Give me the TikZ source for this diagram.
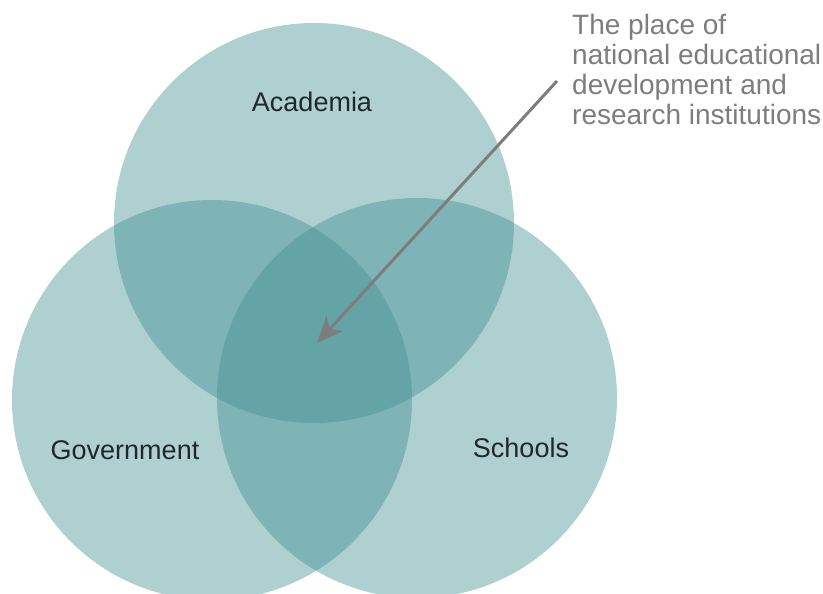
\documentclass[tikz,border=0pt]{standalone}
\usepackage{fontspec}
\setmainfont{Liberation Sans}
\usetikzlibrary{arrows.meta}
\definecolor{setteal}{RGB}{60,140,143}
\definecolor{labelink}{RGB}{34,38,40}
\definecolor{notegray}{RGB}{125,125,125}
\tikzset{
  setdisc/.style={fill=setteal, fill opacity=0.41, draw=none},
  setlabel/.style={text=labelink, font=\fontsize{27}{30}\selectfont, inner sep=0pt},
  notetext/.style={text=notegray, font=\fontsize{28}{30}\selectfont, align=left, inner sep=0pt},
  pointer/.style={draw=notegray, line width=3pt,
    -{Stealth[length=26pt, width=22pt, inset=7pt]}}
}
\begin{document}
\begin{tikzpicture}[x=1pt, y=-1pt]
  \useasboundingbox (0,0) rectangle (823,594);
  \clip (0,0) rectangle (823,594);

  % three overlapping sets
  \fill[setdisc] (314,223) circle [radius=200pt];
  \fill[setdisc] (212,400) circle [radius=200pt];
  \fill[setdisc] (417,398) circle [radius=200pt];

  % set names
  \node[setlabel, anchor=base] (academia) at (312,112) {Academia};
  \node[setlabel, anchor=base] (government) at (125,459) {Government};
  \node[setlabel, anchor=base] (schools) at (521,457) {Schools};

  % annotation and pointer into the common core
  \node[notetext, anchor=north west] (note) at (572,14.5)
    {The place of\\national educational\\development and\\research institutions};
  \coordinate (pointerstart) at (557,81);
  \coordinate (core) at (317,343);
  \draw[pointer] (pointerstart) -- (core);
\end{tikzpicture}
\end{document}
